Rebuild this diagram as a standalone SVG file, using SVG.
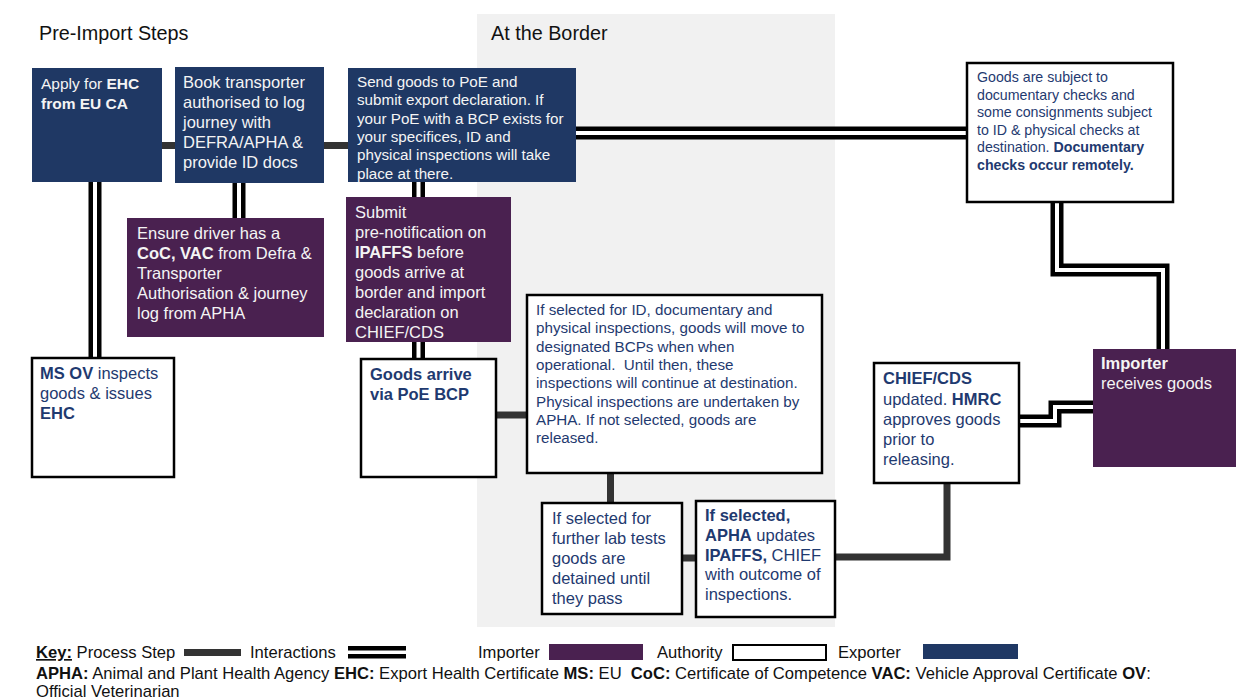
<svg xmlns="http://www.w3.org/2000/svg" width="1242" height="699" viewBox="0 0 1242 699">
<style>
text{font-family:"Liberation Sans",Arial,sans-serif}
.exp{fill:#1f3864}
.imp{fill:#4a2150}
.auth{fill:#fff;stroke:#000;stroke-width:2.5}
.wt{fill:#f4f4f4}
.nt{fill:#1f3a70}
.b{font-weight:bold}
.proc{stroke:#333;stroke-width:7;fill:none}
.io{stroke:#000;stroke-width:13;fill:none;stroke-linejoin:miter}
.ii{stroke:#fff;stroke-width:4;fill:none;stroke-linejoin:miter}
.title{font-size:19.8px;fill:#111}
.leg{font-size:16.6px;fill:#111}
</style>
<rect width="1242" height="699" fill="#fff"/>
<rect x="477" y="14" width="358" height="613" fill="#f1f1f1"/>
<text class="title" x="39" y="40">Pre-Import Steps</text>
<text class="title" x="491" y="40">At the Border</text>

<g id="connectors">
  <path class="proc" d="M162,145.5 H175"/>
  <path class="proc" d="M324,145.5 H348"/>
  <path class="proc" d="M496,415 H527"/>
  <path class="proc" d="M610.5,473 V503"/>
  <path class="proc" d="M682,558 H696"/>
  <path class="proc" d="M835,557 H947 V483"/>
  <g id="interactions">
    <path class="io" d="M95,182 V358"/>
    <path class="ii" d="M95,182 V358"/>
    <path class="io" d="M239,183 V218"/>
    <path class="ii" d="M239,183 V218"/>
    <path class="io" d="M418.5,182 V197"/>
    <path class="ii" d="M418.5,182 V197"/>
    <path class="io" d="M418.5,342 V359"/>
    <path class="ii" d="M418.5,342 V359"/>
    <path class="io" d="M576,133 H967"/>
    <path class="ii" d="M576,133 H967"/>
    <path class="io" d="M1057,202 V270 H1163 V349"/>
    <path class="ii" d="M1057,202 V270 H1163 V349"/>
    <path class="io" d="M1019,421 H1055 V407 H1093"/>
    <path class="ii" d="M1019,421 H1055 V407 H1093"/>
  </g>
</g>

<g id="apply-ehc">
  <rect class="exp" x="32" y="68" width="130" height="114"/>
  <text class="wt" font-size="15.5" x="41"><tspan x="41" y="89">Apply for <tspan class="b">EHC</tspan></tspan><tspan x="41" y="109" class="b">from EU CA</tspan></text>
</g>
<g id="book-transporter">
  <rect class="exp" x="175" y="67" width="149" height="116"/>
  <text class="wt" font-size="16.5"><tspan x="183" y="88">Book transporter</tspan><tspan x="183" y="108">authorised to log</tspan><tspan x="183" y="128">journey with</tspan><tspan x="183" y="148">DEFRA/APHA &amp;</tspan><tspan x="183" y="168">provide ID docs</tspan></text>
</g>
<g id="send-goods">
  <rect class="exp" x="348" y="68" width="228" height="114"/>
  <text class="wt" font-size="15.2"><tspan x="357" y="87">Send goods to PoE and</tspan><tspan x="357" y="105.3">submit export declaration. If</tspan><tspan x="357" y="123.6">your PoE with a BCP exists for</tspan><tspan x="357" y="142">your specifices, ID and</tspan><tspan x="357" y="160.3">physical inspections will take</tspan><tspan x="357" y="178.6">place at there.</tspan></text>
</g>
<g id="ensure-driver">
  <rect class="imp" x="127" y="218" width="197" height="119"/>
  <text class="wt" font-size="16.5"><tspan x="137" y="239">Ensure driver has a</tspan><tspan x="137" y="259"><tspan class="b">CoC, VAC</tspan> from Defra &amp;</tspan><tspan x="137" y="279">Transporter</tspan><tspan x="137" y="299">Authorisation &amp; journey</tspan><tspan x="137" y="319">log from APHA</tspan></text>
</g>
<g id="submit-prenotification">
  <rect class="imp" x="346" y="197" width="165" height="145"/>
  <text class="wt" font-size="16.5"><tspan x="355" y="218">Submit</tspan><tspan x="355" y="238">pre-notification on</tspan><tspan x="355" y="258"><tspan class="b">IPAFFS</tspan> before</tspan><tspan x="355" y="278">goods arrive at</tspan><tspan x="355" y="298">border and import</tspan><tspan x="355" y="318">declaration on</tspan><tspan x="355" y="338">CHIEF/CDS</tspan></text>
</g>
<g id="documentary-checks">
  <rect class="auth" x="967" y="63" width="206" height="139"/>
  <text class="nt" font-size="14.2"><tspan x="977" y="82">Goods are subject to</tspan><tspan x="977" y="99.5">documentary checks and</tspan><tspan x="977" y="117">some consignments subject</tspan><tspan x="977" y="134.5">to ID &amp; physical checks at</tspan><tspan x="977" y="152">destination. <tspan class="b">Documentary</tspan></tspan><tspan x="977" y="169.5" class="b">checks occur remotely.</tspan></text>
</g>
<g id="ms-ov">
  <rect class="auth" x="32" y="358" width="142" height="119"/>
  <text class="nt" font-size="16.5"><tspan x="40" y="379"><tspan class="b">MS OV</tspan> inspects</tspan><tspan x="40" y="399">goods &amp; issues</tspan><tspan x="40" y="419" class="b">EHC</tspan></text>
</g>
<g id="goods-arrive">
  <rect class="auth" x="361" y="359" width="135" height="118"/>
  <text class="nt b" font-size="16.5"><tspan x="370" y="380">Goods arrive</tspan><tspan x="370" y="400">via PoE BCP</tspan></text>
</g>
<g id="selected-inspections">
  <rect class="auth" x="527" y="295" width="295" height="178"/>
  <text class="nt" font-size="15.2"><tspan x="536" y="315">If selected for ID, documentary and</tspan><tspan x="536" y="333.3">physical inspections, goods will move to</tspan><tspan x="536" y="351.6">designated BCPs when when</tspan><tspan x="536" y="370">operational.&#160; Until then, these</tspan><tspan x="536" y="388.3">inspections will continue at destination.</tspan><tspan x="536" y="406.6">Physical inspections are undertaken by</tspan><tspan x="536" y="425">APHA. If not selected, goods are</tspan><tspan x="536" y="443.3">released.</tspan></text>
</g>
<g id="lab-tests">
  <rect class="auth" x="542" y="503" width="140" height="111"/>
  <text class="nt" font-size="16.5"><tspan x="552" y="524">If selected for</tspan><tspan x="552" y="544">further lab tests</tspan><tspan x="552" y="564">goods are</tspan><tspan x="552" y="584">detained until</tspan><tspan x="552" y="604">they pass</tspan></text>
</g>
<g id="apha-updates">
  <rect class="auth" x="696" y="501" width="139" height="116"/>
  <text class="nt" font-size="16.5"><tspan x="705" y="521" class="b">If selected,</tspan><tspan x="705" y="541"><tspan class="b">APHA</tspan> updates</tspan><tspan x="705" y="560.5"><tspan class="b">IPAFFS,</tspan> CHIEF</tspan><tspan x="705" y="580">with outcome of</tspan><tspan x="705" y="600">inspections.</tspan></text>
</g>
<g id="chief-cds">
  <rect class="auth" x="874" y="363" width="145" height="120"/>
  <text class="nt" font-size="16.5"><tspan x="883" y="384" class="b">CHIEF/CDS</tspan><tspan x="883" y="404.5">updated. <tspan class="b">HMRC</tspan></tspan><tspan x="883" y="424.5">approves goods</tspan><tspan x="883" y="444.5">prior to</tspan><tspan x="883" y="464.5">releasing.</tspan></text>
</g>
<g id="importer">
  <rect class="imp" x="1093" y="349" width="143" height="118"/>
  <text class="wt" font-size="16.5"><tspan x="1101" y="369" class="b">Importer</tspan><tspan x="1101" y="389">receives goods</tspan></text>
</g>

<g id="legend">
  <text class="leg" x="36" y="658"><tspan class="b" text-decoration="underline">Key:</tspan> Process Step</text>
  <rect x="184" y="649" width="57" height="7" fill="#333"/>
  <text class="leg" x="250" y="658">Interactions</text>
  <rect x="348" y="646" width="58" height="4.5" fill="#000"/>
  <rect x="348" y="654" width="58" height="4.5" fill="#000"/>
  <text class="leg" x="478" y="658">Importer</text>
  <rect x="549" y="644" width="94" height="16" class="imp"/>
  <text class="leg" x="657" y="658">Authority</text>
  <rect x="733" y="645" width="93" height="15" fill="#fff" stroke="#000" stroke-width="2"/>
  <text class="leg" x="838" y="658">Exporter</text>
  <rect x="923" y="644" width="95" height="15" class="exp"/>
  <text class="leg" x="36" y="679"><tspan class="b">APHA:</tspan> Animal and Plant Health Agency <tspan class="b">EHC:</tspan> Export Health Certificate <tspan class="b">MS:</tspan> EU&#160; <tspan class="b">CoC:</tspan> Certificate of Competence <tspan class="b">VAC:</tspan> Vehicle Approval Certificate <tspan class="b">OV</tspan>:</text>
  <text class="leg" x="36" y="697">Official Veterinarian</text>
</g>
</svg>
